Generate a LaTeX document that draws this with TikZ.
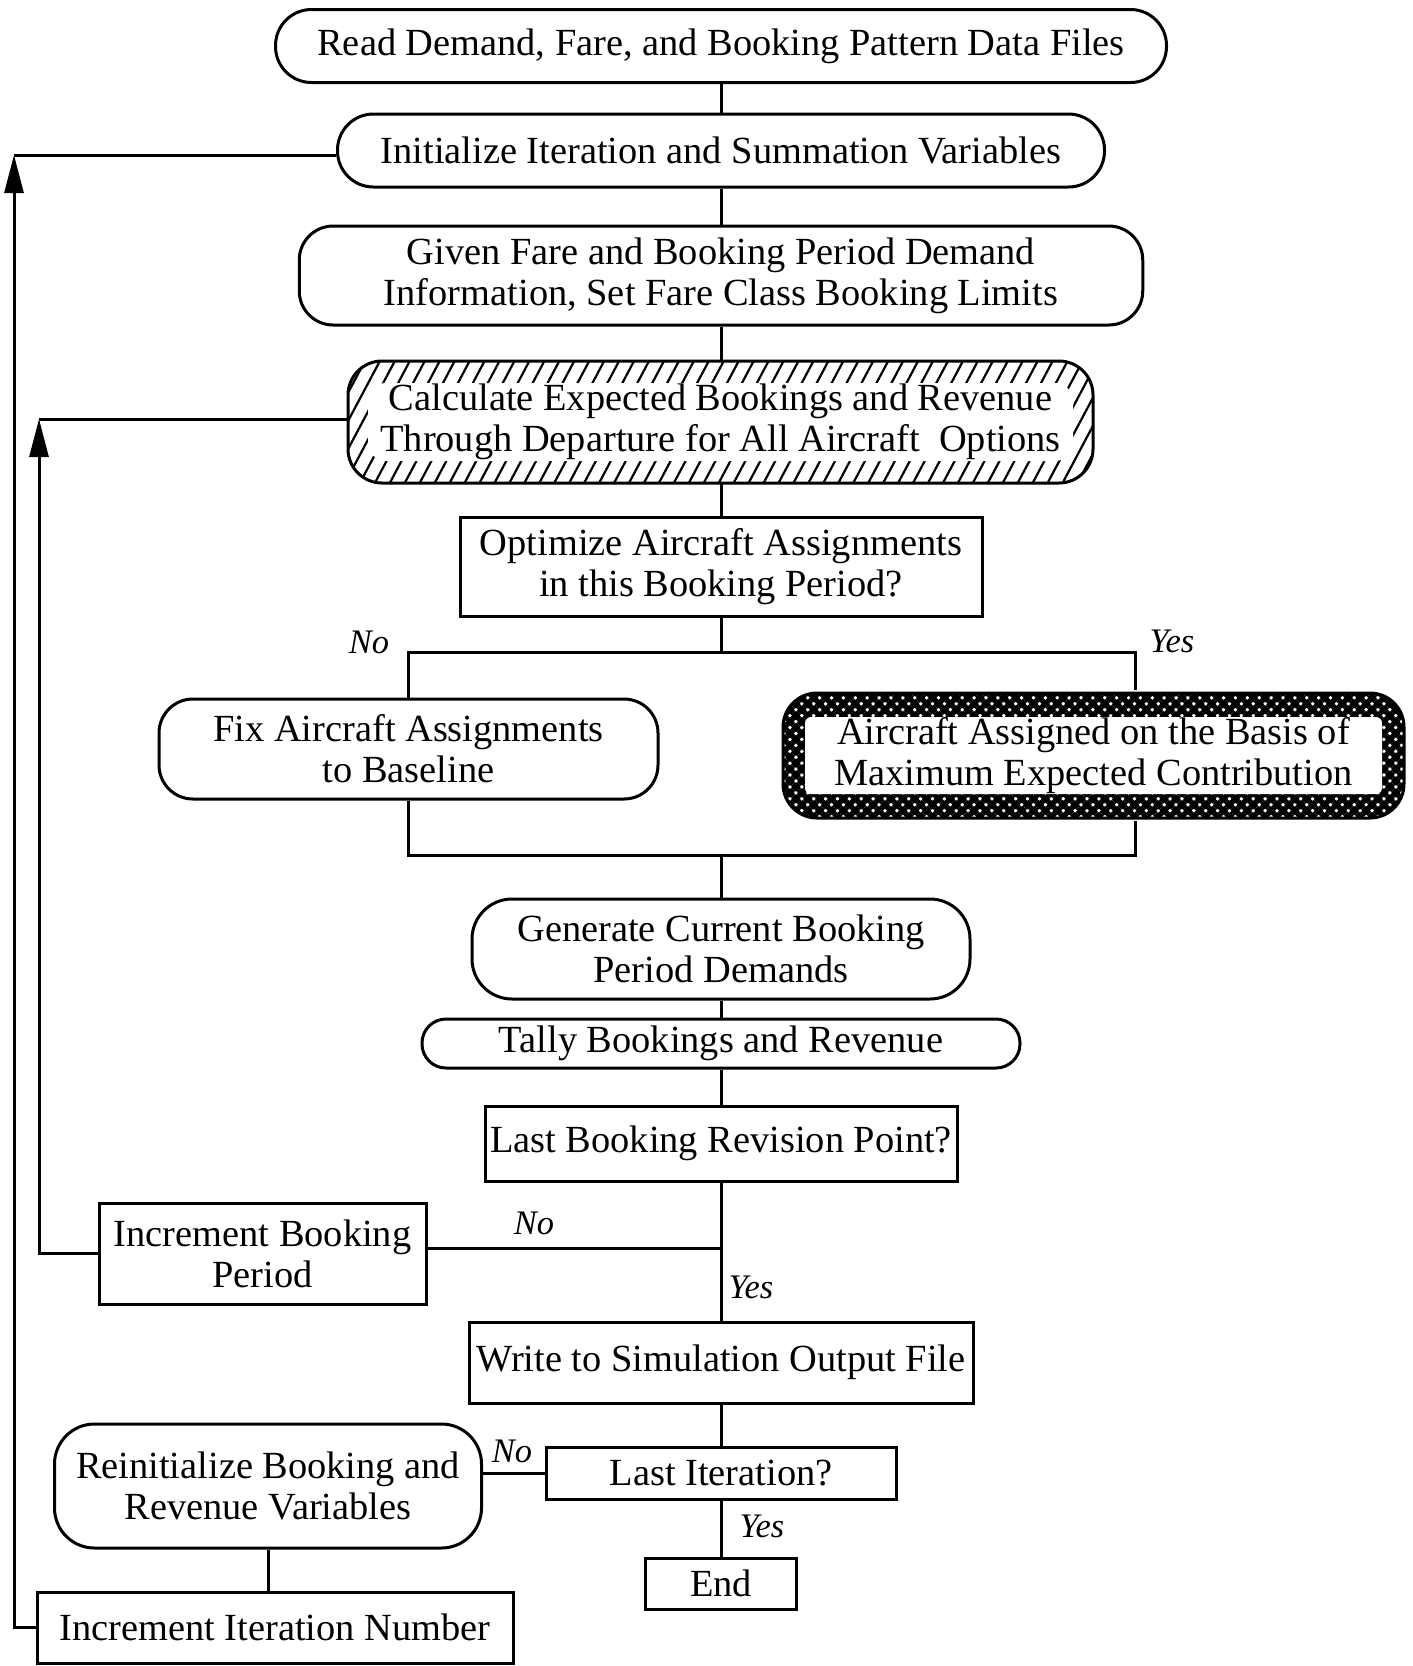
\documentclass[tikz,border=0pt]{standalone}
\usepackage{fontspec}
\setmainfont{Liberation Serif}
\usetikzlibrary{arrows.meta,patterns.meta,calc}
\begin{document}
\begin{tikzpicture}[x=0.5pt,y=-0.5pt,
 base/.style={draw, line width=1.5pt, align=center, font=\fontsize{19.2}{20.5}\selectfont, inner sep=0pt},
 rbox/.style={base, rounded corners=17pt},
 sbox/.style={base},
 lab/.style={font=\fontsize{17.2}{19}\selectfont\itshape, inner sep=0pt},
 link/.style={line width=1.5pt},
 back/.style={line width=1.5pt, -{Triangle[length=19pt,width=9.5pt]}}]
\useasboundingbox (0,0) rectangle (1413,1666);

\node[rbox, rounded corners=18pt, minimum width=445.5pt, minimum height=36.5pt] (read) at (721,46) {Read Demand, Fare, and Booking Pattern Data Files};
\node[rbox, rounded corners=18pt, minimum width=383.5pt, minimum height=36.5pt] (init) at (721,150.5) {Initialize Iteration and Summation Variables};
\node[rbox, minimum width=421.75pt, minimum height=49.5pt] (given) at (721,275.5) {Given Fare and Booking Period Demand\\Information, Set Fare Class Booking Limits};
\node[rbox, minimum width=372.5pt, minimum height=61pt,
  pattern={Lines[angle=62,distance=6.6pt,line width=1.1pt]},
  path picture={\fill[white,rounded corners=9pt] ($(path picture bounding box.south west)+(10pt,11pt)$) rectangle ($(path picture bounding box.north east)-(10pt,11pt)$);}] (calc) at (720.5,422) {Calculate Expected Bookings and Revenue\\Through Departure for All Aircraft\ \ Options};
\node[sbox, minimum width=261pt, minimum height=49.5pt] (opt) at (721,566.5) {Optimize Aircraft Assignments\\in this Booking Period?};
\node[rbox, minimum width=249.5pt, minimum height=50pt] (fix) at (408.5,749) {Fix Aircraft Assignments\\to Baseline};
\node[rbox, minimum width=310.5pt, minimum height=62.5pt,
  pattern={Hatch[angle=45,distance=4.2pt,line width=2.7pt]},
  path picture={\fill[white,rounded corners=3pt] ($(path picture bounding box.south west)+(11pt,12pt)$) rectangle ($(path picture bounding box.north east)-(11pt,12pt)$);}] (assign) at (1093.5,755.5) {Aircraft Assigned on the Basis of\\Maximum Expected Contribution};
\node[rbox, rounded corners=20pt, minimum width=249pt, minimum height=50pt] (gen) at (721,949) {Generate Current Booking\\Period Demands};
\node[rbox, rounded corners=12pt, minimum width=299pt, minimum height=24.5pt] (tally) at (721,1043.5) {Tally Bookings and Revenue};
\node[sbox, minimum width=236pt, minimum height=37.5pt] (lastb) at (721,1143.5) {Last Booking Revision Point?};
\node[sbox, minimum width=163.5pt, minimum height=50.5pt] (incb) at (262.5,1253.5) {Increment Booking\\Period};
\node[sbox, minimum width=252pt, minimum height=40.5pt] (write) at (721,1362.5) {Write to Simulation Output File};
\node[sbox, minimum width=175pt, minimum height=26pt] (lasti) at (721,1473) {Last Iteration?};
\node[rbox, rounded corners=20pt, minimum width=213.5pt, minimum height=62pt] (reinit) at (268,1486) {Reinitialize Booking and\\Revenue Variables};
\node[sbox, minimum width=75.5pt, minimum height=25.5pt] (end) at (721,1583.5) {End};
\node[sbox, minimum width=238pt, minimum height=35.5pt] (incit) at (275,1627.5) {Increment Iteration Number};

\node[lab] (no1) at (369,642) {No};
\node[lab] (yes1) at (1172,641) {Yes};
\node[lab] (no2) at (534,1223) {No};
\node[lab] (yes2) at (751,1287) {Yes};
\node[lab] (no3) at (512,1451) {No};
\node[lab] (yes3) at (762,1526) {Yes};

\draw[link] (read.south) -- (init.north);
\draw[link] (init.south) -- (given.north);
\draw[link] (given.south) -- (calc.north -| given.south);
\draw[link] (calc.south -| opt.north) -- (opt.north);

\coordinate (b1) at (721,652);
\coordinate (bR) at (1135,652);
\coordinate (mR) at (1135,855);
\draw[link] (opt.south) -- (b1);
\draw[link] (fix.north) |- (bR) -- (bR |- assign.north);
\draw[link] (fix.south) |- (mR) -- (mR |- assign.south);
\draw[link] (gen.north) -- (gen.north |- mR);

\draw[link] (gen.south) -- (tally.north);
\draw[link] (tally.south) -- (lastb.north);
\draw[link] (lastb.south) -- (write.north);
\coordinate (j1) at (721,1248);
\draw[link] (j1) -- (j1 -| incb.east);
\draw[link] (write.south) -- (lasti.north);
\draw[link] (lasti.south) -- (end.north);
\draw[link] (lasti.west) -- (lasti.west -| reinit.east);
\draw[link] (reinit.south) -- (reinit.south |- incit.north);

\coordinate (l1t) at (14,155);
\draw[back] (incit.west) -| (l1t);
\draw[link] (l1t) -- (l1t -| init.west);
\coordinate (l2t) at (39,419);
\draw[back] (incb.west) -| (l2t);
\draw[link] (l2t) -- (l2t -| calc.west);
\end{tikzpicture}
\end{document}
